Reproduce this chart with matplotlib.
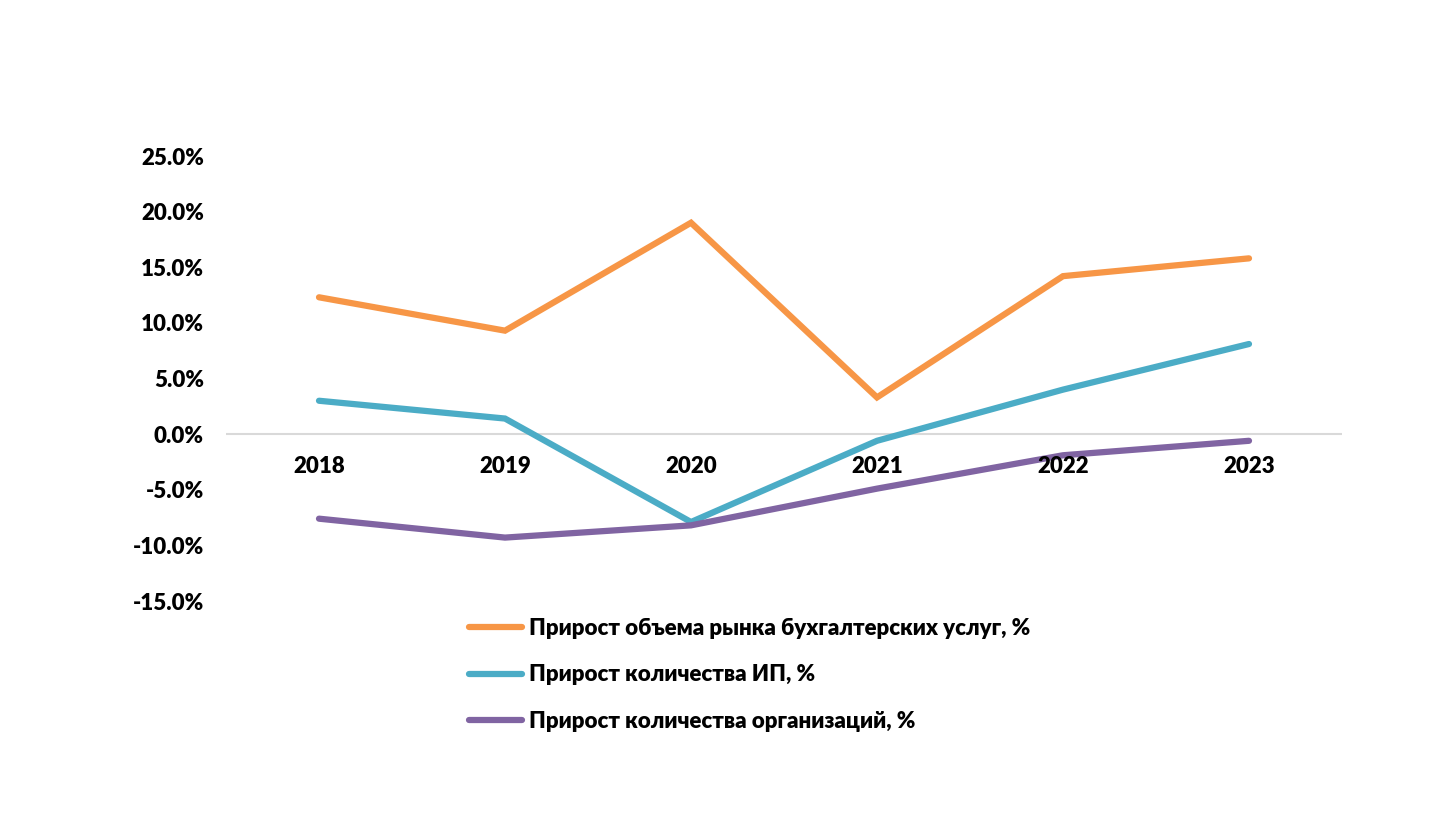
import matplotlib
matplotlib.use("Agg")
import matplotlib.pyplot as plt
from matplotlib.ticker import FuncFormatter
from matplotlib.lines import Line2D

years = ["2018", "2019", "2020", "2021", "2022", "2023"]
market = [12.3, 9.3, 19.0, 3.3, 14.2, 15.8]
ip = [3.0, 1.4, -7.9, -0.6, 4.0, 8.1]
orgs = [-7.6, -9.3, -8.2, -4.9, -1.9, -0.6]
labels = ["Прирост объема рынка бухгалтерских услуг, %",
          "Прирост количества ИП, %",
          "Прирост количества организаций, %"]
colors = ["#F79646", "#4BACC6", "#8064A2"]

plt.rcParams['font.family'] = ['Lato', 'DejaVu Sans']
plt.rcParams['font.weight'] = 'bold'

fig = plt.figure(figsize=(14.32, 8.22), dpi=100)
ax = fig.add_axes([226/1432, 1-601/822, (1342-226)/1432, (601-156)/822])

x = list(range(len(years)))
for vals, c, lab in zip([market, ip, orgs], colors, labels):
    ax.plot(x, vals, color=c, lw=4.5, solid_capstyle='round', solid_joinstyle='miter', label=lab)

ax.set_xlim(-0.5, len(years) - 0.5)
ax.set_ylim(-15, 25)
ax.set_yticks([-15, -10, -5, 0, 5, 10, 15, 20, 25])
ax.yaxis.set_major_formatter(FuncFormatter(lambda v, p: f"{v:.1f}%"))
ax.tick_params(axis='y', length=0, pad=16, labelsize=16)
ax.set_xticks([])
for i, y in enumerate(years):
    ax.text(i, -2.95, y, ha='center', va='center', fontsize=16, fontweight='heavy')
ax.axhline(0, color='#D9D9D9', lw=1.5, zorder=0)
for s in ax.spines.values():
    s.set_visible(False)
for t in ax.get_yticklabels():
    t.set_fontweight('heavy')

handles = [Line2D([0], [0], color=c, lw=4.5, solid_capstyle='round') for c in colors]
fig.legend(handles, labels, loc='upper left', bbox_to_anchor=(469/1432, 1-618/822),
           frameon=False, handlelength=2.4, handletextpad=0.3,
           labelspacing=1.14, borderpad=0, borderaxespad=0,
           prop={'weight': 'heavy', 'size': 16})

fig.savefig("out.png", dpi=100, facecolor='white')
